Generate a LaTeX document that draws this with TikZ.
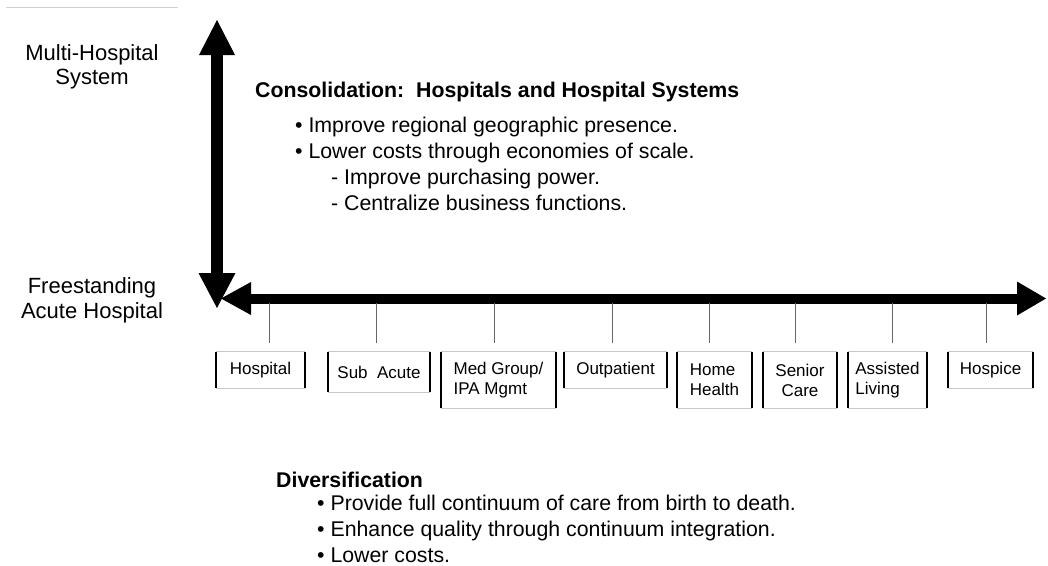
\documentclass[tikz,border=0pt]{standalone}
\usepackage{fontspec}
\setmainfont{Liberation Sans}
\usetikzlibrary{arrows.meta}
\begin{document}
\begin{tikzpicture}[x=1pt,y=-1pt,
  bigarrow/.style={line width=#1},
  leftlabel/.style={inner sep=0pt, align=center, font=\fontsize{22}{24.5}\selectfont},
  heading/.style={inner sep=0pt, font=\fontsize{21.3}{26}\selectfont\bfseries},
  body/.style={inner sep=0pt, align=left, font=\fontsize{21.3}{26}\selectfont},
  catbox/.style={inner sep=0pt, align=center, font=\fontsize{17}{20}\selectfont},
  boxrule/.style={draw=black!22, line width=1pt},
  boxside/.style={draw=black, line width=2pt},
  tickline/.style={draw=black!60, line width=1pt},
]
\useasboundingbox (0,0) rectangle (1048,565);

% thin rule in the upper left corner
\coordinate (ruleA) at (6,7);
\coordinate (ruleB) at (178,7);
\draw[draw=black!18, line width=1pt] (ruleA) -- (ruleB);

% axis end points
\coordinate (vtop) at (217,20);
\coordinate (vbot) at (217,308);
\coordinate (hleft) at (221,298.5);
\coordinate (hright) at (1046,298.5);

% vertical axis: consolidation
\draw[bigarrow=12pt,
  {Triangle[length=35pt,width=36pt,line width=0pt]}-{Triangle[length=35pt,width=37pt,line width=0pt]}]
  (vtop) -- (vbot);
% horizontal axis: diversification
\draw[bigarrow=10pt,
  {Triangle[length=30pt,width=33pt,line width=0pt]}-{Triangle[length=29pt,width=34pt,line width=0pt]}]
  (hleft) -- (hright);

% axis labels
\node[leftlabel, anchor=north] (multi) at (92,44) {Multi-Hospital\\System};
\node[leftlabel, anchor=north] (free) at (92,277.5) {Freestanding\\Acute Hospital};

% consolidation text
\node[heading, anchor=base west] (constitle) at (255,97)
  {Consolidation:\ \ Hospitals and Hospital Systems};
\node[body, anchor=north west] (consbody) at (295,116.8)
  {• Improve regional geographic presence.\\
   • Lower costs through economies of scale.\\
   \hspace*{36pt}- Improve purchasing power.\\
   \hspace*{36pt}- Centralize business functions.};

% diversification text
\node[heading, anchor=base west] (divtitle) at (276,487) {Diversification};
\node[body, anchor=north west] (divbody) at (317,494.8)
  {• Provide full continuum of care from birth to death.\\
   • Enhance quality through continuum integration.\\
   • Lower costs.};

% ticks hanging from the horizontal axis
\foreach \x/\n in {269/1,376/2,494/3,612/4,709/5,795/6,892/7,986/8}{
  \coordinate (ta\n) at (\x,303);
  \coordinate (tb\n) at (\x,343);
  \draw[tickline] (ta\n) -- (tb\n);
}

% continuum of care categories
\node[catbox, minimum width=89pt,  minimum height=36pt] (hosp)    at (260.5,370) {Hospital};
\node[catbox, minimum width=102pt, minimum height=40pt] (sub)     at (379,372)   {Sub\ \ Acute};
\node[catbox, minimum width=115pt, minimum height=56pt, align=left] (med) at (498.5,380) {Med Group/\\IPA Mgmt};
\node[catbox, minimum width=103pt, minimum height=36pt] (outp)    at (615.5,370) {Outpatient};
\node[catbox, minimum width=75pt,  minimum height=56pt, align=left] (home) at (714.5,380) {Home\\Health};
\node[catbox, minimum width=74pt,  minimum height=56pt] (senior)  at (800,380)   {Senior\\Care};
\node[catbox, minimum width=79pt,  minimum height=56pt, align=left] (assist) at (887.5,380) {Assisted\\Living};
\node[catbox, minimum width=85pt,  minimum height=36pt] (hospice) at (990.5,370) {Hospice};

\foreach \b in {hosp,sub,med,outp,home,senior,assist,hospice}{
  \draw[boxrule] (\b.north west) -- (\b.north east) (\b.south west) -- (\b.south east);
  \draw[boxside] (\b.north west) -- (\b.south west) (\b.north east) -- (\b.south east);
}
\end{tikzpicture}
\end{document}
